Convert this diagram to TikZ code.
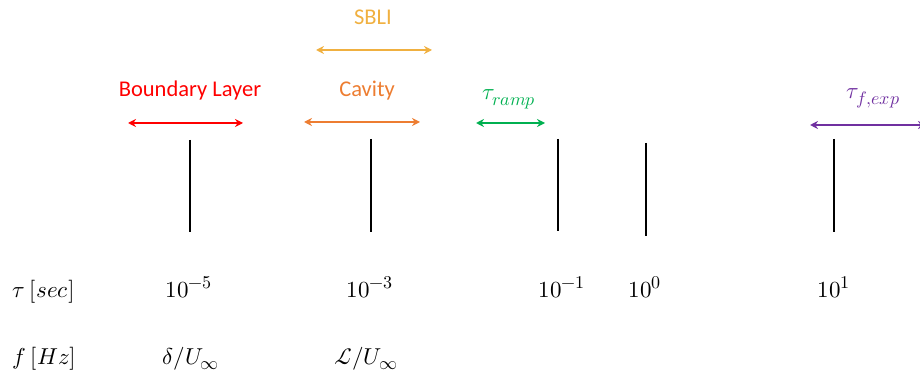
\documentclass[tikz,border=0pt]{standalone}
\usepackage{fontspec}
\setmainfont{Carlito}
\usepackage{unicode-math}
\usetikzlibrary{arrows.meta}
\DeclareMathSizes{23}{23}{18}{14}
\definecolor{blred}{RGB}{255,0,0}
\definecolor{cavor}{RGB}{237,125,49}
\definecolor{sbli}{RGB}{240,176,64}
\definecolor{rampg}{RGB}{0,176,80}
\definecolor{expp}{RGB}{112,48,160}
\tikzset{
  tick/.style={line width=2.2pt, black},
  span/.style={line width=2.4pt, {Stealth[length=8pt,width=8pt]}-{Stealth[length=8pt,width=8pt]}},
  lbl/.style={font=\fontsize{22.5}{26}\selectfont, inner sep=0pt, anchor=base},
  mlbl/.style={font=\fontsize{23}{27}\selectfont, inner sep=0pt, anchor=base}
}
\begin{document}
\begin{tikzpicture}[x=1pt,y=-1pt]
\useasboundingbox (0,0) rectangle (920,379);
% ticks
\foreach \n/\x/\a/\b in {t5/190/140/232, t3/371/139/232, t1/558/139/231, t0/646/143/236, tp/834/139/232}{
  \coordinate (\n top) at (\x,\a);
  \coordinate (\n bot) at (\x,\b);
  \draw[tick] (\n top) -- (\n bot);
}
% arrows
\coordinate (blL) at (128,123); \coordinate (blR) at (243,123);
\coordinate (cvL) at (304,122); \coordinate (cvR) at (420,122);
\coordinate (sbL) at (316,50);  \coordinate (sbR) at (432,50);
\coordinate (rmL) at (476,123); \coordinate (rmR) at (545,123);
\coordinate (exL) at (810,125); \coordinate (exR) at (926,125);
\draw[span, blred] (blL) -- (blR);
\draw[span, cavor] (cvL) -- (cvR);
\draw[span, sbli] (sbL) -- (sbR);
\draw[span, rampg] (rmL) -- (rmR);
\draw[span, expp] (exL) -- (exR);
% labels
\node[lbl, blred] (blT) at (190,97) {Boundary Layer};
\node[lbl, cavor] (cvT) at (367,97) {Cavity};
\node[lbl, sbli] (sbT) at (373,25) {SBLI};
\node[mlbl, rampg] (rmT) at (509,100) {$\tau_{ramp}$};
\node[mlbl, expp] (exT) at (873,99) {$\tau_{f,exp}$};
% bottom rows
\node[mlbl, anchor=base west] (tau) at (12,297) {$\tau\ [sec]$};
\node[mlbl] (e5) at (189,297) {$10^{-5}$};
\node[mlbl] (e3) at (370,297) {$10^{-3}$};
\node[mlbl] (e1) at (562,297) {$10^{-1}$};
\node[mlbl] (e0) at (645,297) {$10^{0}$};
\node[mlbl] (ep) at (834,297) {$10^{1}$};
\node[mlbl, anchor=base west] (fhz) at (12,364) {$f\ [Hz]$};
\node[mlbl] (dU) at (191,364) {$\delta/U_\infty$};
\node[mlbl] (LU) at (366,364) {$\mathcal{L}/U_\infty$};
\end{tikzpicture}
\end{document}
